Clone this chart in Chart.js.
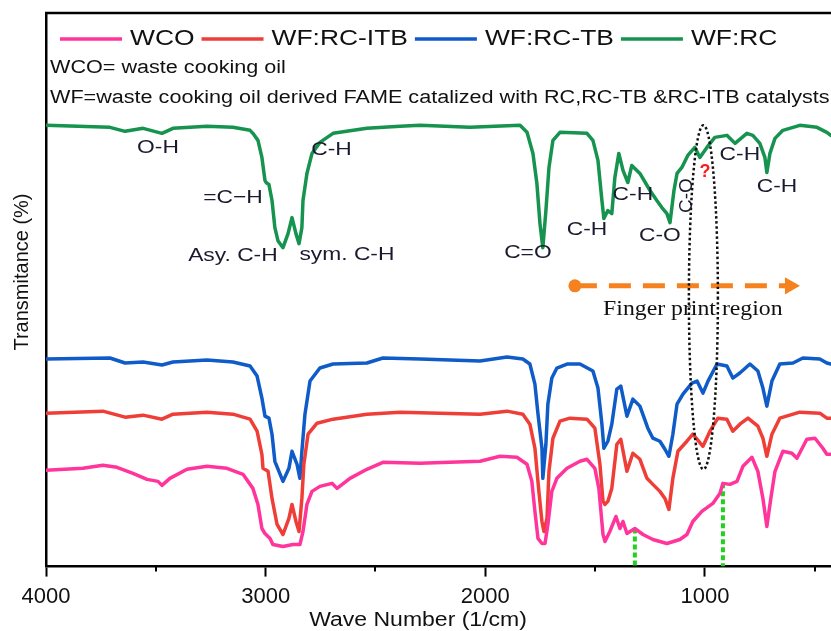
<!DOCTYPE html>
<html>
<head>
<meta charset="utf-8">
<title>FTIR spectra</title>
<script src="https://cdn.jsdelivr.net/npm/chart.js@4.4.1/dist/chart.umd.min.js"></script>
<style>
  html, body { margin: 0; padding: 0; background: #fff; }
  canvas { display: block; }
</style>
</head>
<body>
<canvas id="ftir" width="831" height="631"></canvas>
<script>
// wavenumber (1/cm) and offset transmittance
const wcoWn = [4000,3832,3741,3677,3604,3540,3490,3472,3436,3358,3267,3176,3103,3058,3035,3017,3003,2980,2967,2921,2876,2844,2830,2812,2789,2753,2698,2675,2616,2539,2466,2297,2024,1933,1856,1810,1788,1774,1760,1742,1728,1715,1697,1674,1628,1569,1537,1501,1483,1464,1455,1433,1405,1387,1373,1355,1319,1282,1237,1173,1114,1082,1055,1014,964,932,918,886,854,827,786,759,736,718,700,681,645,604,581,536,499,463,445,427];
const wcoT = [96,98,101,99,93,87,85,81,88,97,100,98,92,78,62,38,33,28,22,20,22,22,35,62,75,80,83,78,88,97,104,103,105,110,109,102,85,55,28,23,23,42,75,88,98,105,107,98,78,32,25,35,50,38,45,33,38,32,27,23,27,32,45,55,63,73,83,82,85,100,109,95,68,40,68,95,115,113,108,127,128,118,112,112];

const itbWn = [4000,3741,3640,3558,3472,3422,3267,3149,3071,3039,3017,3012,2989,2971,2948,2921,2894,2880,2862,2848,2835,2826,2807,2766,2693,2539,2388,2024,1901,1829,1797,1774,1756,1742,1733,1719,1710,1692,1660,1615,1537,1501,1478,1464,1455,1442,1424,1401,1383,1355,1328,1296,1264,1237,1205,1182,1164,1146,1123,1082,1055,1009,977,941,900,873,841,804,759,736,718,695,659,568,477,445,427];
const itbT = [153,155,149,151,147,152,154,152,147,135,112,98,95,68,42,32,48,62,45,35,68,102,132,143,147,152,154,152,155,152,142,118,75,45,35,48,95,128,145,148,147,138,102,65,62,65,78,122,127,95,113,107,88,82,75,68,57,88,115,125,132,120,135,148,147,135,142,148,140,128,110,132,148,154,153,148,148];

const tbWn = [4000,3709,3640,3558,3472,3422,3267,3149,3071,3039,3017,3003,2985,2971,2958,2921,2894,2880,2857,2844,2835,2821,2798,2753,2693,2539,2466,2297,2024,1901,1829,1797,1774,1760,1742,1738,1724,1715,1697,1674,1628,1569,1510,1487,1469,1460,1442,1424,1401,1383,1355,1328,1296,1260,1237,1205,1182,1164,1146,1127,1100,1059,1036,1009,986,945,900,873,841,795,759,736,718,695,659,599,554,477,445,427];
const tbT = [207,208,203,204,201,204,206,204,200,190,168,150,148,132,105,85,98,115,102,88,115,152,185,198,202,203,208,207,205,209,207,202,182,152,118,88,122,162,188,198,202,202,195,178,142,118,125,142,177,180,150,167,160,138,128,125,117,110,132,162,172,183,185,173,185,202,200,188,193,202,195,178,160,185,202,203,208,207,203,202];

const rcWn = [4000,3709,3640,3558,3472,3422,3267,3149,3071,3058,3035,3017,3003,2998,2985,2971,2958,2944,2921,2898,2880,2862,2848,2835,2830,2812,2789,2753,2693,2539,2388,2297,2070,1842,1810,1783,1765,1751,1738,1724,1710,1692,1660,1537,1510,1487,1469,1460,1442,1424,1410,1392,1373,1351,1333,1296,1250,1219,1196,1173,1159,1141,1127,1105,1078,1046,1023,991,955,900,863,809,782,750,727,718,704,681,645,568,490,445,427];
const rcT = [440,438,434,437,432,437,439,438,435,432,425,408,385,383,381,365,338,325,318,332,348,332,322,338,365,392,412,423,432,437,439,440,438,440,433,412,382,342,318,355,398,425,433,432,425,405,365,347,355,352,388,412,395,383,400,392,375,365,358,352,343,375,392,398,410,418,408,418,428,430,422,432,430,422,408,393,412,427,435,440,438,433,430];

// band assignments written on the top spectrum
const bandText = ['O-H', 'C-H', '=C\u2212H', 'Asy. C-H', 'sym. C-H', 'C=O', 'C-H', 'C-H', 'C-O', 'C-H', 'C-H'];
const bandWn = [3490, 2700, 3149, 3149, 2630, 1806, 1537, 1328, 1205, 841, 672];
const bandT = [418, 416, 368, 310, 311, 313, 336, 371, 330, 411, 379];

// fingerprint arrow, dotted ellipse and green markers
const arrowWn = [1592, 613];
const arrowT = [280, 280];
const ellipseWn = [1073, 941];
const ellipseT = [97, 440];
const markWn = [1319, 918];
const markT = [38, 83];

const xTicksMajor = [4000, 3000, 2000, 1000];
const xTicksMinor = [3500, 2500, 1500, 500];

const sans = "'Liberation Sans', Arial, sans-serif";

const series = [
    { label: 'WCO', wn: wcoWn, t: wcoT, color: '#ff359b' },
    { label: 'WF:RC-ITB', wn: itbWn, t: itbT, color: '#ef3e38' },
    { label: 'WF:RC-TB', wn: tbWn, t: tbT, color: '#0f5bc8' },
    { label: 'WF:RC', wn: rcWn, t: rcT, color: '#15934f' }
];

function toPoints(xs, ys) {
    return xs.map((x, i) => ({ x: x, y: ys[i] }));
}

function stretchText(ctx, text, x, y, font, color, sx, rot) {
    ctx.save();
    ctx.translate(x, y);
    if (rot) ctx.rotate(rot);
    ctx.scale(sx, 1);
    ctx.font = font;
    ctx.fillStyle = color;
    ctx.textAlign = 'center';
    ctx.textBaseline = 'middle';
    ctx.fillText(text, 0, 0);
    ctx.restore();
}

const figureNotes = {
    id: 'figureNotes',
    afterDatasetsDraw(chart) {
        const ctx = chart.ctx;
        const xs = chart.scales.x, ys = chart.scales.y;
        const area = chart.chartArea;

        // top frame line
        ctx.save();
        ctx.strokeStyle = '#000';
        ctx.lineWidth = 2.5;
        ctx.beginPath();
        ctx.moveTo(area.left - 1, area.top);
        ctx.lineTo(area.right, area.top);
        ctx.stroke();

        // short minor ticks
        ctx.lineWidth = 2;
        xTicksMinor.forEach(v => {
            const px = Math.round(xs.getPixelForValue(v));
            ctx.beginPath();
            ctx.moveTo(px, area.bottom);
            ctx.lineTo(px, area.bottom + 5);
            ctx.stroke();
        });

        // dotted ellipse round the ~1000 band
        const x0 = xs.getPixelForValue(ellipseWn[0]), x1 = xs.getPixelForValue(ellipseWn[1]);
        const y0 = ys.getPixelForValue(ellipseT[0]), y1 = ys.getPixelForValue(ellipseT[1]);
        ctx.setLineDash([2.5, 2.5]);
        ctx.lineWidth = 2.5;
        ctx.strokeStyle = '#111';
        ctx.beginPath();
        ctx.ellipse((x0 + x1) / 2, (y0 + y1) / 2, Math.abs(x1 - x0) / 2, Math.abs(y1 - y0) / 2, 0, 0, Math.PI * 2);
        ctx.stroke();
        ctx.restore();

        // legend row inside the frame
        ctx.save();
        ctx.font = '22px ' + sans;
        ctx.textBaseline = 'middle';
        let lx = area.left + 14;
        const ly = area.top + 26;
        chart.data.datasets.slice(0, series.length).forEach(ds => {
            ctx.strokeStyle = ds.borderColor;
            ctx.lineWidth = 3.5;
            ctx.beginPath();
            ctx.moveTo(lx, ly);
            ctx.lineTo(lx + 62, ly);
            ctx.stroke();
            const w = ctx.measureText(ds.label).width * 1.2;
            ctx.save();
            ctx.translate(lx + 70, ly);
            ctx.scale(1.2, 1);
            ctx.fillStyle = '#111';
            ctx.fillText(ds.label, 0, 0);
            ctx.restore();
            lx += 70 + w + 7;
        });
        ctx.restore();

        // notes under the legend
        ctx.save();
        ctx.translate(area.left + 4, area.top + 55);
        ctx.scale(1.2, 1);
        ctx.font = '18px ' + sans;
        ctx.fillStyle = '#111';
        ctx.textBaseline = 'middle';
        ctx.fillText('WCO= waste cooking oil', 0, 0);
        ctx.fillText('WF=waste cooking oil derived FAME catalized with RC,RC-TB &RC-ITB catalysts', 0, 30);
        ctx.restore();

        // band labels
        bandText.forEach((txt, i) => {
            stretchText(ctx, txt, xs.getPixelForValue(bandWn[i]), ys.getPixelForValue(bandT[i]),
                '19px ' + sans, '#1a1a2e', 1.2);
        });
        stretchText(ctx, 'C-O', xs.getPixelForValue(1082), ys.getPixelForValue(370),
            '19px ' + sans, '#1a1a2e', 1.0, -Math.PI / 2);
        stretchText(ctx, '?', xs.getPixelForValue(1000), ys.getPixelForValue(393),
            'bold 18px ' + sans, '#ff1a1a', 1.0);
        stretchText(ctx, 'Finger print region', xs.getPixelForValue(1055), ys.getPixelForValue(257),
            "22px 'Liberation Serif', 'Times New Roman', serif", '#111', 1.08);

        // axis titles
        stretchText(ctx, 'Wave Number (1/cm)', 418, 620, '20px ' + sans, '#111', 1.15);
        stretchText(ctx, 'Transmitance (%)', 22, 272, '20px ' + sans, '#111', 1.0, -Math.PI / 2);
    }
};

const datasets = series.map(s => ({
    label: s.label,
    data: toPoints(s.wn, s.t),
    borderColor: s.color,
    backgroundColor: s.color,
    borderWidth: 3.5,
    borderJoinStyle: 'round',
    borderCapStyle: 'round',
    pointRadius: 0,
    tension: 0
}));

datasets.push({
    label: 'fingerprint',
    data: toPoints(arrowWn, arrowT),
    borderColor: '#f5821f',
    backgroundColor: '#f5821f',
    borderWidth: 5,
    borderDash: [22, 12],
    pointRadius: [6.5, 10],
    pointStyle: ['circle', 'triangle'],
    pointRotation: [0, 90],
    pointBorderWidth: 0
});

markWn.forEach((w, i) => {
    datasets.push({
        label: 'mark' + i,
        data: toPoints([w, w], [markT[i], 0]),
        borderColor: '#22d022',
        borderWidth: 4,
        borderDash: [5, 3],
        pointRadius: 0
    });
});

new Chart(document.getElementById('ftir'), {
    type: 'line',
    data: { datasets: datasets },
    options: {
        responsive: false,
        animation: false,
        layout: { autoPadding: false, padding: { left: 46, top: 13, right: 0, bottom: 14 } },
        plugins: {
            tooltip: { enabled: false },
            legend: { display: false }
        },
        scales: {
            x: {
                type: 'linear',
                reverse: true,
                min: 426,
                max: 4000,
                afterBuildTicks: axis => { axis.ticks = xTicksMajor.map(v => ({ value: v })); },
                border: { color: '#000', width: 2.5 },
                grid: {
                    drawOnChartArea: false,
                    tickLength: 10,
                    tickWidth: 2,
                    tickColor: '#000'
                },
                ticks: {
                    autoSkip: false,
                    maxRotation: 0,
                    padding: 7,
                    color: '#111',
                    font: { family: sans, size: 22 },
                    callback: v => String(v)
                }
            },
            y: {
                min: 0,
                max: 552,
                afterFit: s => { s.width = 0; },
                grid: { display: false },
                ticks: { display: false },
                border: { color: '#000', width: 2.5 }
            }
        }
    },
    plugins: [figureNotes]
});
</script>
</body>
</html>
